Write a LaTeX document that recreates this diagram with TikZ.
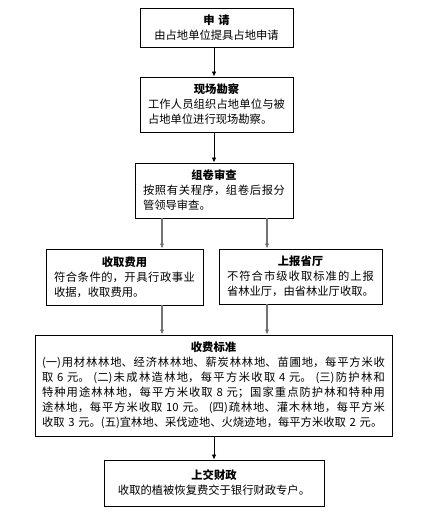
\documentclass[tikz,border=0pt]{standalone}
\usepackage{fontspec}
\setmainfont{Noto Sans CJK SC}
\XeTeXlinebreaklocale "zh"
\XeTeXlinebreakskip=0pt plus 3pt
\usepackage{tikz}
\usetikzlibrary{arrows.meta,positioning}
\newcommand{\bodyjust}{\leftskip=0pt\rightskip=0pt\parfillskip=0pt plus 1fil\relax}

\begin{document}
\begin{tikzpicture}[x=1pt,y=-1pt,
  stepbox/.style={draw,line width=0.9pt,inner sep=0pt,font=\fontsize{11.3}{15}\selectfont},
  go/.style={-{Latex[length=5pt,width=4.5pt]},line width=0.8pt},
  gogray/.style={-{Latex[length=5pt,width=4.5pt,fill=black]},line width=1.6pt,draw=black!55}
]
  \useasboundingbox[fill=white] (0,0) rectangle (435,514);
  \node[stepbox,minimum width=153pt,minimum height=39pt,text width=137pt] (apply) at (216.5,27.5)
    {\centering\textbf{申 请}\par 由占地单位提具占地申请\par};
  \node[stepbox,minimum width=153pt,minimum height=55pt,text width=137pt] (survey) at (216.5,104.5)
    {\centering\textbf{现场勘察}\par\bodyjust 工作人员组织占地单位与被\linebreak 占地单位进行现场勘察。\par};
  \node[stepbox,minimum width=158pt,minimum height=55pt,text width=142pt] (review) at (214,190.5)
    {\centering\textbf{组卷审查}\par\bodyjust 按照有关程序，组卷后报分\linebreak 管领导审查。\par};
  \node[stepbox,minimum width=157pt,minimum height=56pt,text width=141pt] (collect) at (124.5,277)
    {\centering\textbf{收取费用}\par\bodyjust 符合条件的，开具行政事业\linebreak 收据，收取费用。\par};
  \node[stepbox,minimum width=163pt,minimum height=55pt,text width=147pt] (report) at (300.5,276.5)
    {\centering\textbf{上报省厅}\par\bodyjust 不符合市级收取标准的上报\linebreak 省林业厅，由省林业厅收取。\par};
  \node[stepbox,minimum width=357pt,minimum height=101pt,text width=343pt] (rates) at (213.5,385.5)
    {\centering\textbf{收费标准}\par\bodyjust
     (一)用材林林地、经济林林地、薪炭林林地、苗圃地，每平方米收\linebreak
     取 6 元。 (二)未成林造林地，每平方米收取 4 元。 (三)防护林和\linebreak
     特种用途林林地，每平方米收取 8 元；国家重点防护林和特种用\linebreak
     途林地，每平方米收取 10 元。 (四)疏林地、灌木林地，每平方米\linebreak
     收取 3 元。(五)宜林地、采伐迹地、火烧迹地，每平方米收取 2 元。\par};
  \node[stepbox,minimum width=220pt,minimum height=46pt,text width=204pt] (finance) at (214,483)
    {\centering\textbf{上交财政}\par 收取的植被恢复费交于银行财政专户。\par};
  \coordinate (midx) at (214,0);
  \coordinate (leftx) at (162,0);
  \coordinate (rightx) at (267,0);
  \draw[go] (apply.south -| midx) -- (survey.north -| midx);
  \draw[go] (survey.south -| midx) -- (review.north -| midx);
  \draw[gogray] (review.south -| leftx) -- (collect.north -| leftx);
  \draw[gogray] (review.south -| rightx) -- (report.north -| rightx);
  \draw[gogray] (collect.south -| leftx) -- (rates.north -| leftx);
  \draw[gogray] (report.south -| rightx) -- (rates.north -| rightx);
  \draw[go] (rates.south -| midx) -- (finance.north -| midx);
\end{tikzpicture}
\end{document}
